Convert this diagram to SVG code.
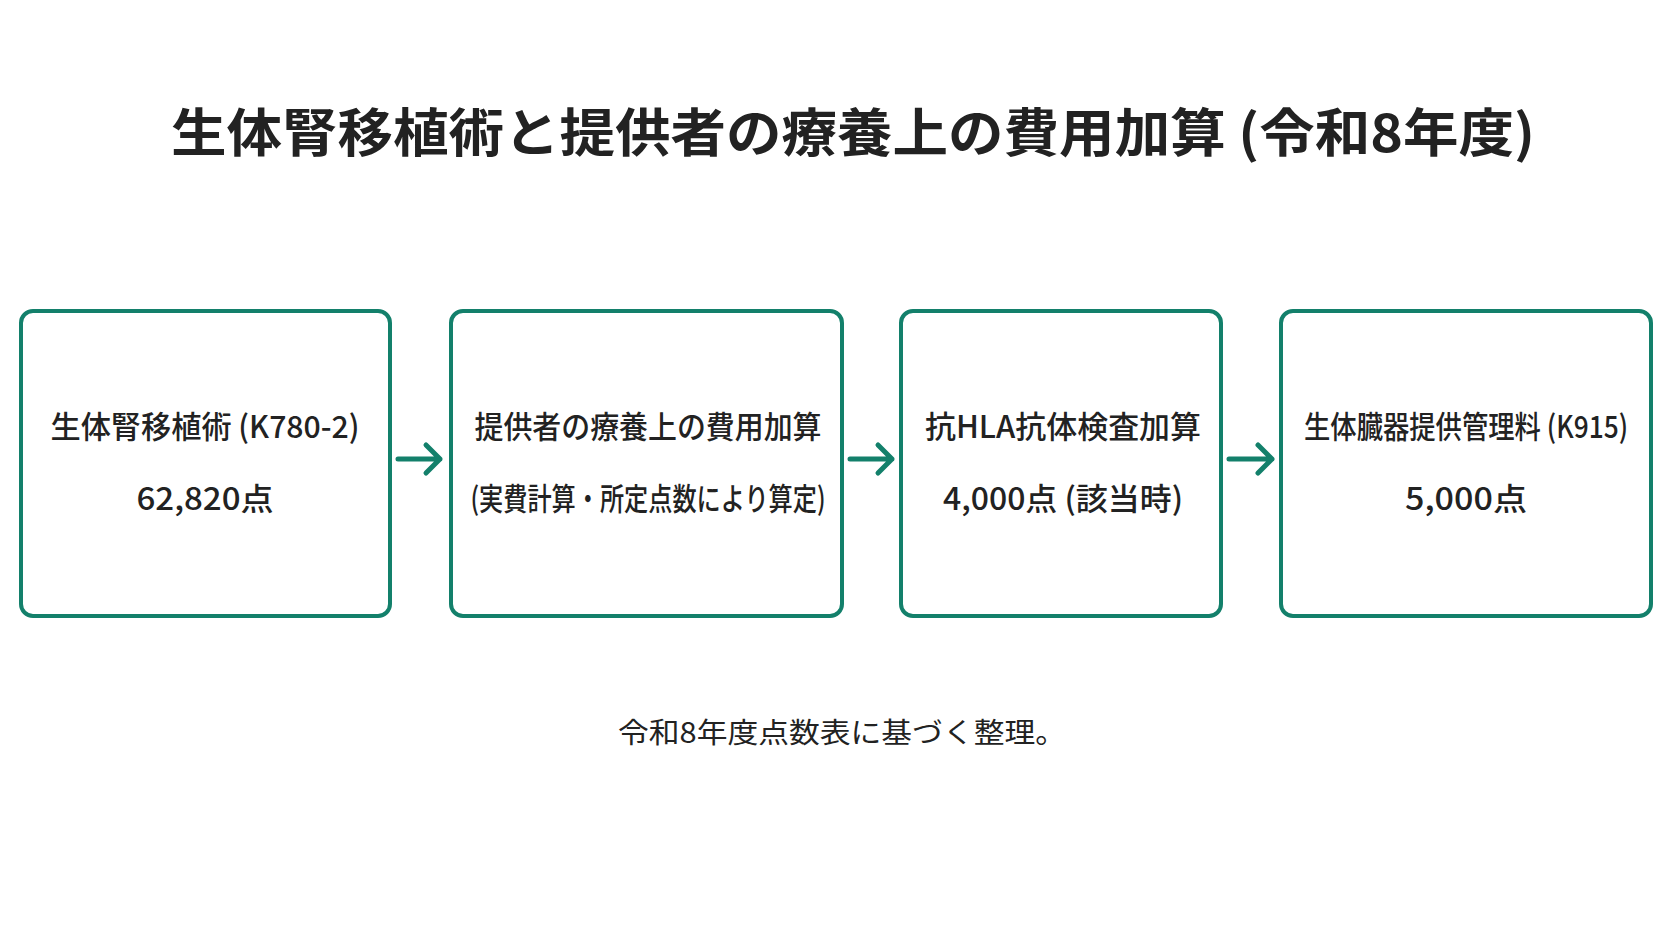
<svg xmlns="http://www.w3.org/2000/svg" width="1672" height="941" viewBox="0 0 1672 941">
<defs>
<style>
text{font-family:"Noto Sans CJK JP","Noto Sans",sans-serif;fill:#222;text-anchor:middle}
.t{font-size:52px;font-weight:bold}
.b{font-size:31px;font-weight:500}
.f{font-size:28px}
.box{fill:#fff;stroke:#13806b;stroke-width:4}
.c{stroke:#13806b;stroke-width:5;fill:none;stroke-linecap:round;stroke-linejoin:round}
</style>
</defs>
<rect width="1672" height="941" fill="#fff"/>
<text class="t" x="853" y="152" textLength="1364" lengthAdjust="spacingAndGlyphs">生体腎移植術と提供者の療養上の費用加算 (令和8年度)</text>
<g id="n1"><rect class="box" x="21" y="311" width="369" height="305" rx="12"/><text class="b" x="205" y="438" textLength="309" lengthAdjust="spacingAndGlyphs">生体腎移植術 (K780-2)</text><text class="b" x="205" y="510" textLength="137" lengthAdjust="spacingAndGlyphs">62,820点</text></g>
<g id="n2"><rect class="box" x="451" y="311" width="391" height="305" rx="12"/><text class="b" x="648" y="438" textLength="347" lengthAdjust="spacingAndGlyphs">提供者の療養上の費用加算</text><text class="b" x="648" y="510" textLength="355" lengthAdjust="spacingAndGlyphs">(実費計算・所定点数により算定)</text></g>
<g id="n3"><rect class="box" x="901" y="311" width="320" height="305" rx="12"/><text class="b" x="1063" y="438" textLength="276" lengthAdjust="spacingAndGlyphs">抗HLA抗体検査加算</text><text class="b" x="1063" y="510" textLength="240" lengthAdjust="spacingAndGlyphs">4,000点 (該当時)</text></g>
<g id="n4"><rect class="box" x="1281" y="311" width="370" height="305" rx="12"/><text class="b" x="1466" y="438" textLength="324" lengthAdjust="spacingAndGlyphs">生体臓器提供管理料 (K915)</text><text class="b" x="1466" y="510" textLength="122" lengthAdjust="spacingAndGlyphs">5,000点</text></g>
<g id="connectors">
<path class="c" d="M398 459H440M426 445L440 459L426 473"/>
<path class="c" d="M850 459H892M878 445L892 459L878 473"/>
<path class="c" d="M1229 459H1272M1258 445L1272 459L1258 473"/>
</g>
<text class="f" x="842" y="743" textLength="448" lengthAdjust="spacingAndGlyphs">令和8年度点数表に基づく整理。</text>
</svg>
